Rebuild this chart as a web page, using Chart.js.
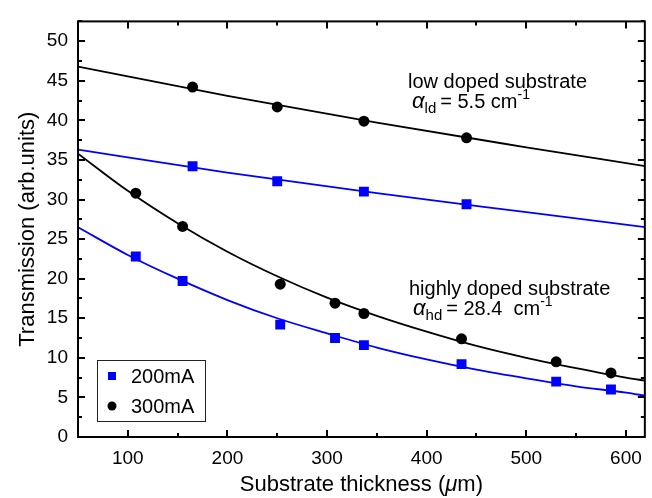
<!DOCTYPE html>
<html>
<head>
<meta charset="utf-8">
<script src="https://cdn.jsdelivr.net/npm/chart.js@4.4.0/dist/chart.umd.min.js"></script>
<style>
  html, body { margin: 0; padding: 0; background: #fff; }
  #wrap { width: 652px; height: 498px; }
</style>
</head>
<body>
<div id="wrap"><canvas id="chart" width="652" height="498"></canvas></div>
<script>
// Measured points (x in um, transmission in arb. units)
const lowThickness = [165, 250, 337, 440];
const low200 = [34.2, 32.3, 31.0, 29.4];
const low300 = [44.2, 41.7, 39.9, 37.8];

const highThickness = [108, 155, 253, 308, 337, 435, 530, 585];
const high200 = [22.8, 19.7, 14.2, 12.5, 11.6, 9.2, 7.0, 6.0];
const high300 = [30.8, 26.6, 19.3, 16.9, 15.6, 12.4, 9.5, 8.1];

// Fit curves
const fitLowX = [50, 200, 350, 500, 620];
const fitLow200 = [36.3, 33.4, 30.8, 28.4, 26.5];
const fitLow300 = [46.8, 43.1, 39.7, 36.6, 34.2];

const fitHighX = [50, 100, 150, 200, 250, 300, 350, 400, 450, 500, 550, 600, 620];
const fitHigh200 = [26.5, 23.0, 20.0, 17.3, 15.0, 13.1, 11.3, 9.8, 8.5, 7.4, 6.4, 5.6, 5.2];
const fitHigh300 = [35.8, 31.1, 27.0, 23.4, 20.3, 17.6, 15.3, 13.3, 11.5, 10.0, 8.7, 7.5, 7.1];

const xTicks = [100, 200, 300, 400, 500, 600];
const yTicks = [0, 5, 10, 15, 20, 25, 30, 35, 40, 45, 50];

const BLUE = '#0000ff';
const FONT = '"Liberation Sans", Arial, Helvetica, sans-serif';

function pts(xs, ys) {
    return xs.map((x, i) => ({ x: x, y: ys[i] }));
}

function fitLine(xs, ys, color) {
    return {
        type: 'line',
        data: pts(xs, ys),
        borderColor: color,
        borderWidth: 1.8,
        pointRadius: 0,
        fill: false,
        cubicInterpolationMode: 'monotone',
        label: ''
    };
}

function marks(xs, ys, color, style, r, label) {
    return {
        type: 'scatter',
        data: pts(xs, ys),
        backgroundColor: color,
        borderColor: color,
        borderWidth: 0,
        pointStyle: style,
        pointRadius: r,
        label: label
    };
}

// Inward ticks, frame, legend box and text labels
const decorPlugin = {
    id: 'decor',
    afterDraw(chart) {
        const ctx = chart.ctx;
        const a = chart.chartArea;
        const xs = chart.scales.x;
        const ys = chart.scales.y;
        ctx.save();
        ctx.strokeStyle = '#000';
        ctx.lineWidth = 2;

        // minor + major ticks on x (bottom and top)
        for (let v = 100; v <= 600; v += 50) {
            const px = Math.round(xs.getPixelForValue(v));
            const len = v % 100 === 0 ? 7 : 4;
            ctx.beginPath();
            ctx.moveTo(px, a.bottom); ctx.lineTo(px, a.bottom - len);
            ctx.moveTo(px, a.top); ctx.lineTo(px, a.top + len);
            ctx.stroke();
        }
        // ticks on y (left and right)
        for (let v = 0; v <= 52.5; v += 2.5) {
            const py = Math.round(ys.getPixelForValue(v));
            const len = v % 5 === 0 ? 7 : 4;
            ctx.beginPath();
            ctx.moveTo(a.left, py); ctx.lineTo(a.left + len, py);
            ctx.moveTo(a.right, py); ctx.lineTo(a.right - len, py);
            ctx.stroke();
        }
        // frame
        ctx.strokeRect(a.left, a.top, a.right - a.left, a.bottom - a.top);

        // x axis title with italic mu
        ctx.fillStyle = '#000';
        ctx.textBaseline = 'alphabetic';
        const parts = [
            { t: 'Substrate thickness (', f: '22px ' + FONT },
            { t: '\u03bc', f: 'italic 22px ' + FONT },
            { t: 'm)', f: '22px ' + FONT }
        ];
        let total = 0;
        parts.forEach(p => { ctx.font = p.f; p.w = ctx.measureText(p.t).width; total += p.w; });
        let tx = (a.left + a.right) / 2 - total / 2;
        ctx.textAlign = 'left';
        parts.forEach(p => { ctx.font = p.f; ctx.fillText(p.t, tx, 491); tx += p.w; });

        // legend box
        ctx.lineWidth = 1;
        ctx.strokeStyle = '#222';
        ctx.strokeRect(97.5, 360.5, 108, 61);
        const legendItems = [
            { ds: chart.data.datasets[4], y: 376 },
            { ds: chart.data.datasets[5], y: 406 }
        ];
        ctx.font = '20px ' + FONT;
        ctx.textBaseline = 'middle';
        legendItems.forEach(item => {
            ctx.fillStyle = item.ds.backgroundColor;
            if (item.ds.pointStyle === 'rect') {
                ctx.fillRect(108, item.y - 4, 8, 8);
            } else {
                ctx.beginPath();
                ctx.arc(112, item.y, 4.5, 0, Math.PI * 2);
                ctx.fill();
            }
            ctx.fillStyle = '#000';
            ctx.fillText(item.ds.label, 131, item.y + 1);
        });

        // annotations
        ctx.textBaseline = 'alphabetic';
        ctx.fillStyle = '#000';
        drawAlphaLabel(ctx, 'low doped substrate', 'ld', '5.5 cm', 408, 88, 20);
        drawAlphaLabel(ctx, 'highly doped substrate', 'hd', '28.4  cm', 409, 295, 20);
        ctx.restore();
    }
};

function drawAlphaLabel(ctx, line1, sub, val, x, y, gap) {
    ctx.font = '20px ' + FONT;
    ctx.fillText(line1, x, y);
    const y2 = y + gap;
    let cx = x + 4;
    ctx.font = 'italic 22px ' + FONT;
    ctx.fillText('\u03b1', cx, y2);
    cx += ctx.measureText('\u03b1').width;
    ctx.font = '15px ' + FONT;
    ctx.fillText(sub, cx, y2 + 5);
    cx += ctx.measureText(sub).width + 4;
    ctx.font = '20px ' + FONT;
    const t = '= ' + val;
    ctx.fillText(t, cx, y2);
    cx += ctx.measureText(t).width;
    ctx.font = '14px ' + FONT;
    ctx.fillText('-1', cx, y2 - 9);
}

const config = {
    data: {
        datasets: [
            fitLine(fitLowX, fitLow300, '#000'),
            fitLine(fitLowX, fitLow200, BLUE),
            fitLine(fitHighX, fitHigh300, '#000'),
            fitLine(fitHighX, fitHigh200, BLUE),
            marks(lowThickness.concat(highThickness), low200.concat(high200), BLUE, 'rect', 7, '200mA'),
            marks(lowThickness.concat(highThickness), low300.concat(high300), '#000', 'circle', 5.5, '300mA')
        ]
    },
    options: {
        responsive: false,
        animation: false,
        layout: { padding: { top: 8, right: 5, left: 0, bottom: 0 } },
        plugins: {
            legend: { display: false },
            tooltip: { enabled: false }
        },
        scales: {
            x: {
                type: 'linear',
                min: 50,
                max: 619,
                grid: { display: false, drawTicks: false },
                border: { display: false },
                afterBuildTicks(scale) {
                    scale.ticks = xTicks.map(v => ({ value: v }));
                },
                afterFit(scale) { scale.height = 61; },
                ticks: {
                    color: '#000',
                    padding: 10,
                    font: { family: FONT, size: 19 }
                },
                title: { display: false }
            },
            y: {
                type: 'linear',
                min: 0,
                max: 52.5,
                grid: { display: false, drawTicks: false },
                border: { display: false },
                afterBuildTicks(scale) {
                    scale.ticks = yTicks.map(v => ({ value: v }));
                },
                afterFit(scale) { scale.width = 78; },
                ticks: {
                    color: '#000',
                    padding: 10,
                    font: { family: FONT, size: 19 }
                },
                title: {
                    display: true,
                    text: 'Transmission (arb.units)',
                    color: '#000',
                    padding: { top: 15, bottom: 0 },
                    font: { family: FONT, size: 22 }
                }
            }
        }
    },
    plugins: [decorPlugin]
};

new Chart(document.getElementById('chart'), config);
</script>
</body>
</html>
